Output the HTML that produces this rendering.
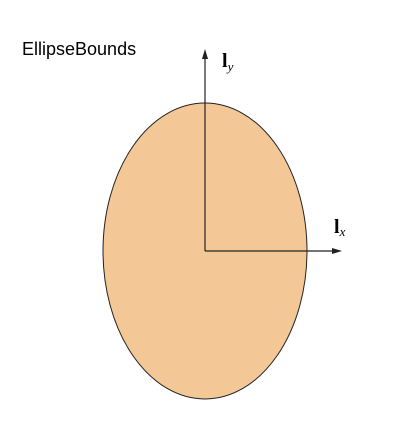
<!DOCTYPE html>
<html><head><meta charset="utf-8"><style>
html,body{margin:0;padding:0;background:#fff;width:415px;height:446px;overflow:hidden}
</style></head><body>
<svg width="415" height="446" viewBox="0 0 415 446">
<text x="22" y="55" font-family="Liberation Sans, sans-serif" font-size="18" fill="#000">EllipseBounds</text>
<ellipse cx="205" cy="251" rx="102" ry="148" fill="#F4C797" stroke="#222" stroke-width="1"/>
<line x1="205" y1="251" x2="205" y2="55" stroke="#222" stroke-width="1.2"/>
<polygon points="205,49 202,59 208,59" fill="#222"/>
<line x1="205" y1="251" x2="336" y2="251" stroke="#222" stroke-width="1.2"/>
<polygon points="342,251 332,248 332,254" fill="#222"/>
<text x="222" y="67" font-family="Liberation Serif, serif" font-size="20" font-weight="bold" fill="#000">l<tspan font-size="13" font-weight="normal" font-style="italic" dy="4">y</tspan></text>
<text x="334" y="233" font-family="Liberation Serif, serif" font-size="20" font-weight="bold" fill="#000">l<tspan font-size="13" font-weight="normal" font-style="italic" dy="3">x</tspan></text>
</svg>
</body></html>
